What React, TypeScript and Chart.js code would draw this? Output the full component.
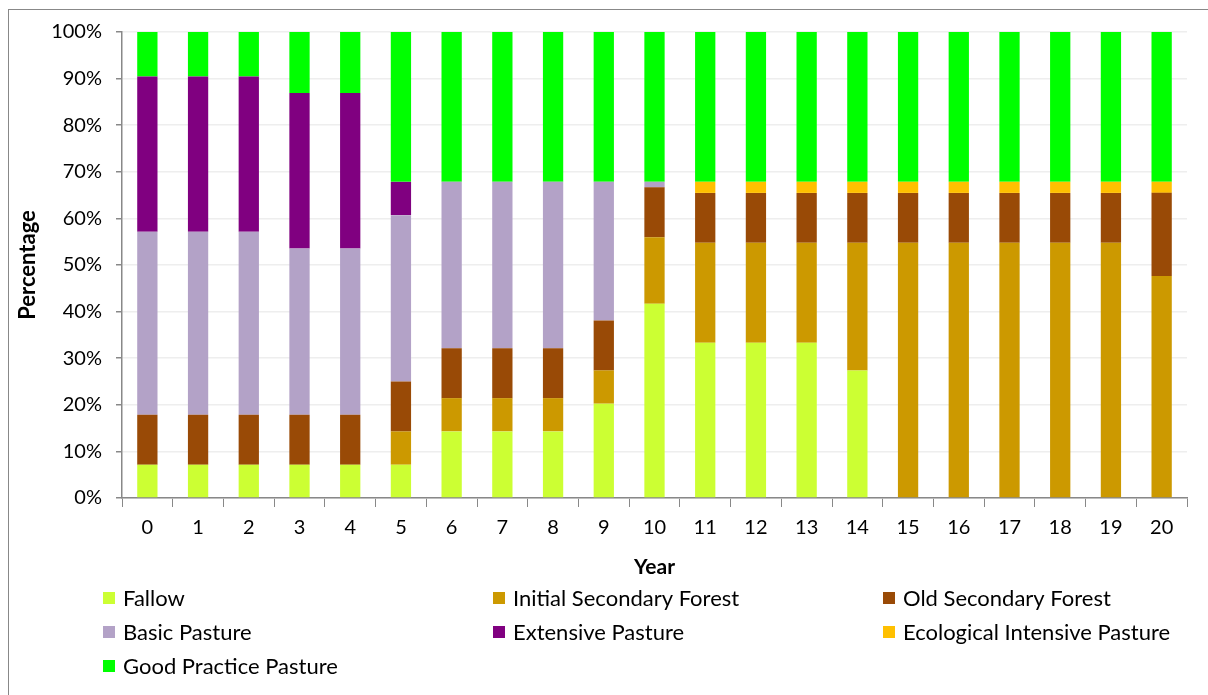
import React, { useEffect, useRef } from "react";
import { Chart, registerables } from "chart.js";

Chart.register(...registerables);

const years = ["0","1","2","3","4","5","6","7","8","9","10","11","12","13","14","15","16","17","18","19","20"];
const fallow = [7.14,7.14,7.14,7.14,7.14,7.14,14.29,14.29,14.29,20.24,41.67,33.33,33.33,33.33,27.38,0,0,0,0,0,0];
const initialSecondary = [0,0,0,0,0,7.14,7.14,7.14,7.14,7.14,14.29,21.43,21.43,21.43,27.38,54.76,54.76,54.76,54.76,54.76,47.62];
const oldSecondary = [10.71,10.71,10.71,10.71,10.71,10.71,10.71,10.71,10.71,10.71,10.71,10.71,10.71,10.71,10.71,10.71,10.71,10.71,10.71,10.71,17.86];
const basicPasture = [39.29,39.29,39.29,35.71,35.71,35.71,35.71,35.71,35.71,29.76,1.19,0,0,0,0,0,0,0,0,0,0];
const extensivePasture = [33.33,33.33,33.33,33.33,33.33,7.14,0,0,0,0,0,0,0,0,0,0,0,0,0,0,0];
const ecoIntensive = [0,0,0,0,0,0,0,0,0,0,0,2.38,2.38,2.38,2.38,2.38,2.38,2.38,2.38,2.38,2.38];
const goodPractice = [9.52,9.52,9.52,13.1,13.1,32.14,32.14,32.14,32.14,32.14,32.14,32.14,32.14,32.14,32.14,32.14,32.14,32.14,32.14,32.14,32.14];
const yTicks = [0,10,20,30,40,50,60,70,80,90,100];

const seriesNames = ["Fallow","Initial Secondary Forest","Old Secondary Forest","Basic Pasture","Extensive Pasture","Ecological Intensive Pasture","Good Practice Pasture"];
const seriesColors = ["#CCFF33","#CC9900","#994A06","#B3A2C7","#800080","#FFC000","#00FF00"];
const seriesData = [fallow, initialSecondary, oldSecondary, basicPasture, extensivePasture, ecoIntensive, goodPractice];

const FONT = "Lato, 'Open Sans', sans-serif";

const legendPlugin = {
  id: "gridLegend",
  afterDraw(chart: any) {
    const ctx = chart.ctx;
    const cols = [103, 493, 883];
    const rows = [598, 632, 666];
    ctx.save();
    ctx.font = `22px ${FONT}`;
    ctx.textBaseline = "middle";
    ctx.textAlign = "left";
    chart.data.datasets.forEach((ds: any, i: number) => {
      const x = cols[i % 3];
      const y = rows[Math.floor(i / 3)];
      ctx.fillStyle = ds.backgroundColor;
      ctx.fillRect(x, y - 6, 12, 12);
      ctx.fillStyle = "#000";
      ctx.fillText(ds.label, x + 20, y + 1);
    });
    ctx.restore();
  },
};

export default function App() {
  const ref = useRef<HTMLCanvasElement>(null);
  useEffect(() => {
    if (!ref.current) return;
    const chart = new Chart(ref.current, {
      type: "bar",
      data: {
        labels: years,
        datasets: seriesNames.map((n, i) => ({
          label: n,
          data: seriesData[i],
          backgroundColor: seriesColors[i],
          borderWidth: 0,
          barPercentage: 0.4,
          categoryPercentage: 1.0,
        })),
      },
      options: {
        animation: false,
        responsive: false,
        maintainAspectRatio: false,
        layout: { padding: { top: 32, right: 21, left: 0, bottom: 110 } },
        plugins: { legend: { display: false }, tooltip: { enabled: false } },
        scales: {
          x: {
            stacked: true,
            offset: true,
            grid: { offset: true, drawOnChartArea: false, tickLength: 9, tickColor: "#888", lineWidth: 1 },
            border: { color: "#888", width: 1.5 },
            ticks: { color: "#000", font: { family: FONT, size: 20 }, padding: 9, maxRotation: 0 },
            title: { display: true, text: "Year", color: "#000", font: { family: FONT, size: 21, weight: "bold" }, padding: { top: 5, bottom: 5 } },
            afterFit: (s: any) => { s.height = 87; },
          },
          y: {
            stacked: true,
            min: 0,
            max: 100,
            afterBuildTicks: (s: any) => { s.ticks = yTicks.map((v) => ({ value: v })); },
            grid: { color: "#EEEEEE", lineWidth: 1.5, tickLength: 6, tickColor: "#888" },
            border: { color: "#888", width: 1.5 },
            ticks: { color: "#000", font: { family: FONT, size: 20 }, padding: 14, callback: (v: any) => v + "%" },
            title: { display: true, text: "Percentage", color: "#000", font: { family: FONT, size: 22, weight: "bold" }, padding: { top: 15, bottom: 0 } },
            afterFit: (s: any) => { s.width = 122; },
          },
        },
      },
      plugins: [legendPlugin],
    });
    return () => chart.destroy();
  }, []);
  return (
    <div style={{ position: "absolute", left: 0, top: 0, width: 1208, height: 695, overflow: "hidden", background: "#fff" }}>
      <div style={{ position: "absolute", left: 8, top: 9, width: 1300, height: 800, border: "1.5px solid #888", boxSizing: "border-box" }} />
      <canvas ref={ref} width={1208} height={695} style={{ position: "absolute", left: 0, top: 0 }} />
    </div>
  );
}
